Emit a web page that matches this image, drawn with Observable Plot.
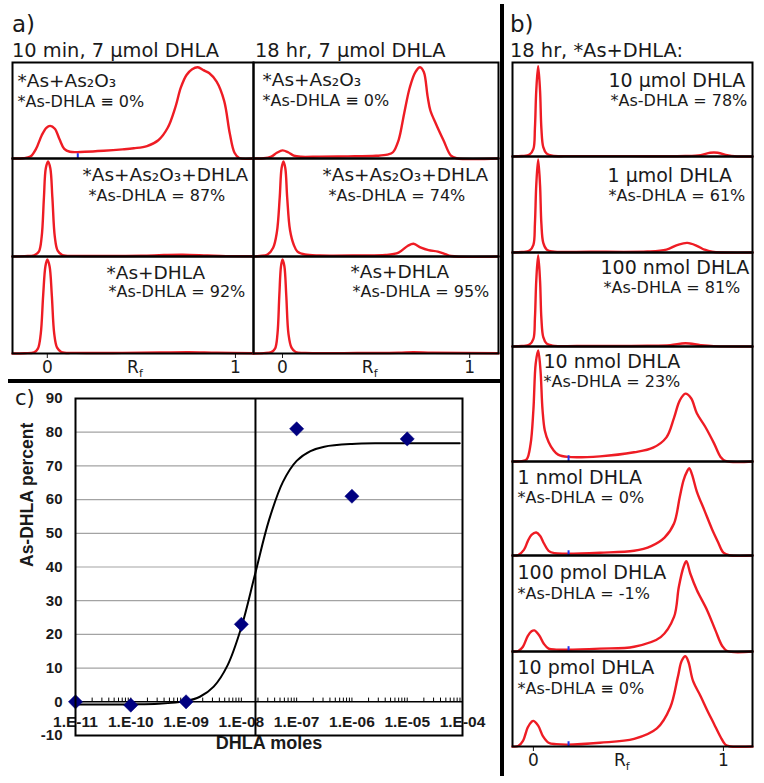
<!DOCTYPE html>
<html><head><meta charset="utf-8">
<script src="https://cdn.jsdelivr.net/npm/d3@7"></script>
<script src="https://cdn.jsdelivr.net/npm/@observablehq/plot@0.6"></script>
<style>
html,body{margin:0;padding:0;background:#fff;}
#root{position:relative;width:764px;height:783px;overflow:hidden;background:#fff;}
</style></head><body><div id="root"></div>
<script>
// ---------------- DATA ----------------
// Panel a, 10 min column (Rf, relative intensity 0..1 of box height)
const a10_AsAs2O3 = [[-0.185,0],[-0.13,0.002],[-0.09,0.02],[-0.06,0.1],[-0.03,0.24],[-0.005,0.32],[0.015,0.34],[0.04,0.31],[0.065,0.2],[0.09,0.1],[0.12,0.07],[0.2,0.07],[0.3,0.08],[0.4,0.095],[0.46,0.107],[0.53,0.13],[0.59,0.19],[0.64,0.32],[0.68,0.53],[0.71,0.74],[0.74,0.87],[0.77,0.93],[0.80,0.95],[0.83,0.92],[0.86,0.89],[0.9,0.8],[0.94,0.6],[0.97,0.26],[0.995,0.06],[1.02,0.005],[1.096,0]];
const a10_AsAs2O3DHLA = [[-0.185,0],[-0.12,0.004],[-0.07,0.012],[-0.045,0.05],[-0.03,0.2],[-0.018,0.6],[-0.008,0.9],[0.004,0.97],[0.016,0.9],[0.027,0.6],[0.04,0.2],[0.055,0.06],[0.08,0.015],[0.15,0.006],[0.3,0.005],[0.5,0.008],[0.62,0.015],[0.72,0.018],[0.85,0.01],[0.95,0.004],[1.096,0.003]];
const a10_AsDHLA = [[-0.185,0],[-0.12,0.003],[-0.07,0.012],[-0.05,0.05],[-0.035,0.2],[-0.022,0.6],[-0.01,0.9],[0.0,0.97],[0.012,0.9],[0.024,0.6],[0.037,0.2],[0.052,0.06],[0.075,0.015],[0.15,0.006],[0.4,0.006],[0.6,0.01],[0.75,0.014],[0.9,0.007],[1.096,0.003]];
// Panel a, 18 hr column
const a18_AsAs2O3 = [[-0.155,0],[-0.1,0.002],[-0.06,0.02],[-0.03,0.06],[0.0,0.085],[0.03,0.065],[0.06,0.03],[0.1,0.018],[0.2,0.02],[0.35,0.022],[0.5,0.028],[0.56,0.04],[0.59,0.065],[0.62,0.19],[0.65,0.47],[0.68,0.74],[0.71,0.9],[0.735,0.95],[0.755,0.9],[0.775,0.65],[0.79,0.5],[0.82,0.36],[0.86,0.19],[0.9,0.03],[0.93,0.003],[1.154,0]];
const a18_AsAs2O3DHLA = [[-0.155,0],[-0.12,0.005],[-0.08,0.02],[-0.05,0.09],[-0.03,0.25],[-0.015,0.6],[-0.005,0.9],[0.005,0.97],[0.015,0.9],[0.025,0.6],[0.04,0.27],[0.06,0.12],[0.08,0.05],[0.12,0.02],[0.2,0.01],[0.4,0.01],[0.55,0.015],[0.62,0.04],[0.67,0.11],[0.70,0.13],[0.74,0.09],[0.78,0.065],[0.83,0.05],[0.87,0.025],[0.9,0.005],[1.154,0]];
const a18_AsDHLA = [[-0.155,0],[-0.1,0.004],[-0.06,0.015],[-0.04,0.05],[-0.027,0.2],[-0.017,0.6],[-0.008,0.9],[0.0,0.97],[0.01,0.9],[0.02,0.6],[0.032,0.2],[0.048,0.06],[0.07,0.015],[0.12,0.006],[0.4,0.005],[0.62,0.008],[0.7,0.014],[0.8,0.008],[1.154,0.003]];
// Panel b, 18 hr, *As + DHLA amounts
const b_10umol = [[-0.11,0],[-0.06,0.005],[-0.02,0.02],[0.0,0.08],[0.008,0.3],[0.015,0.7],[0.025,0.96],[0.035,0.7],[0.042,0.3],[0.052,0.1],[0.07,0.03],[0.1,0.008],[0.2,0.004],[0.5,0.004],[0.8,0.005],[0.88,0.015],[0.93,0.04],[0.97,0.04],[1.02,0.015],[1.06,0.003],[1.153,0]];
const b_1umol = [[-0.11,0],[-0.06,0.005],[-0.02,0.02],[0.0,0.08],[0.008,0.3],[0.015,0.7],[0.025,0.97],[0.035,0.7],[0.042,0.3],[0.052,0.1],[0.07,0.03],[0.1,0.01],[0.3,0.008],[0.6,0.01],[0.7,0.03],[0.76,0.08],[0.81,0.1],[0.86,0.07],[0.9,0.03],[0.94,0.008],[1.153,0]];
const b_100nmol = [[-0.11,0],[-0.06,0.005],[-0.02,0.02],[0.0,0.08],[0.008,0.3],[0.015,0.7],[0.025,0.97],[0.035,0.7],[0.042,0.3],[0.052,0.1],[0.07,0.03],[0.1,0.01],[0.3,0.006],[0.6,0.008],[0.72,0.015],[0.8,0.035],[0.88,0.015],[0.95,0.004],[1.153,0]];
const b_10nmol = [[-0.11,0],[-0.06,0.003],[-0.035,0.02],[-0.015,0.15],[0.0,0.45],[0.012,0.85],[0.025,0.965],[0.037,0.8],[0.048,0.45],[0.06,0.27],[0.08,0.17],[0.105,0.1],[0.13,0.06],[0.18,0.04],[0.35,0.045],[0.53,0.08],[0.63,0.12],[0.70,0.21],[0.74,0.38],[0.77,0.53],[0.80,0.59],[0.83,0.55],[0.86,0.42],[0.905,0.3],[0.95,0.16],[0.985,0.04],[1.01,0.005],[1.153,0]];
const b_1nmol = [[-0.11,0],[-0.08,0.005],[-0.05,0.06],[-0.03,0.15],[-0.01,0.22],[0.015,0.245],[0.035,0.21],[0.055,0.13],[0.08,0.05],[0.11,0.025],[0.18,0.02],[0.35,0.03],[0.53,0.05],[0.62,0.1],[0.69,0.19],[0.74,0.34],[0.77,0.62],[0.79,0.8],[0.81,0.9],[0.82,0.93],[0.835,0.86],[0.86,0.68],[0.9,0.48],[0.94,0.28],[0.97,0.15],[1.0,0.03],[1.03,0.003],[1.153,0]];
const b_100pmol = [[-0.11,0],[-0.08,0.005],[-0.055,0.05],[-0.03,0.16],[-0.01,0.21],[0.005,0.22],[0.03,0.17],[0.055,0.08],[0.08,0.03],[0.12,0.02],[0.18,0.018],[0.35,0.03],[0.53,0.05],[0.67,0.15],[0.74,0.36],[0.765,0.67],[0.79,0.88],[0.805,0.94],[0.826,0.81],[0.86,0.64],[0.914,0.43],[0.958,0.22],[0.993,0.06],[1.02,0.005],[1.153,0]];
const b_10pmol = [[-0.11,0],[-0.08,0.005],[-0.055,0.06],[-0.03,0.2],[-0.01,0.26],[0.0,0.27],[0.025,0.22],[0.05,0.11],[0.08,0.04],[0.12,0.025],[0.18,0.02],[0.35,0.04],[0.53,0.08],[0.65,0.19],[0.72,0.41],[0.76,0.73],[0.78,0.9],[0.80,0.95],[0.816,0.89],[0.84,0.69],[0.88,0.53],[0.915,0.38],[0.95,0.24],[0.985,0.1],[1.01,0.02],[1.03,0.003],[1.153,0]];

// Scanner origin marks (Rf)
const originMarkA10 = [0.162];
const originMarkB = [0.185];

// Text
const panelLetters = ["a)", "b)", "c)"];
const headA = ["10 min, 7 µmol DHLA", "18 hr, 7 µmol DHLA"];
const headB = "18 hr, *As+DHLA:";
const aSamples = ["*As+As₂O₃", "*As+As₂O₃+DHLA", "*As+DHLA"];
const a10Pct = ["*As-DHLA ≡ 0%", "*As-DHLA = 87%", "*As-DHLA = 92%"];
const a18Pct = ["*As-DHLA ≡ 0%", "*As-DHLA = 74%", "*As-DHLA = 95%"];
const bAmounts = ["10 µmol DHLA", "1 µmol DHLA", "100 nmol DHLA", "10 nmol DHLA", "1 nmol DHLA", "100 pmol DHLA", "10 pmol DHLA"];
const bPct = ["*As-DHLA = 78%", "*As-DHLA = 61%", "*As-DHLA = 81%", "*As-DHLA = 23%", "*As-DHLA = 0%", "*As-DHLA = -1%", "*As-DHLA ≡ 0%"];
const rfTicks = [0, 1];

// Panel c
const dhlaMoles = [1e-11, 1e-10, 1e-9, 1e-8, 1e-7, 1e-6, 1e-5];
const asDhlaPct = [0, -1, 0, 23, 81, 61, 78];
const fitLogMoles = [-11, -10.5, -10, -9.5, -9, -8.75, -8.5, -8.25, -8, -7.75, -7.5, -7.25, -7, -6.75, -6.5, -6, -5.5, -5, -4.5, -4.05];
const fitPct = [-0.8, -0.8, -0.75, -0.6, 0.2, 1.5, 4.5, 10.8, 22.1, 38, 53.9, 65.2, 71.5, 74.4, 75.7, 76.5, 76.7, 76.7, 76.7, 76.7];
const ec50Moles = 1.8e-8;
const xTickMoles = [1e-11, 1e-10, 1e-9, 1e-8, 1e-7, 1e-6, 1e-5, 1e-4];
const xTickLabels = ["1.E-11", "1.E-10", "1.E-09", "1.E-08", "1.E-07", "1.E-06", "1.E-05", "1.E-04"];
const yTicks = [-10, 0, 10, 20, 30, 40, 50, 60, 70, 80, 90];
const gridPct = [10, 20, 30, 40, 50, 60, 70, 80];

// ---------------- LAYOUT ----------------
const RED = "#ee1c24";
const INK = "#1a1a1a";
const FONT_AB = "'DejaVu Sans', Verdana, sans-serif";
const FONT_C = "'Liberation Sans', Arial, sans-serif";
const root = document.getElementById("root");

function place(svg, left, top, font) {
  svg.style.position = "absolute";
  svg.style.left = left + "px";
  svg.style.top = top + "px";
  svg.style.background = "transparent";
  svg.style.overflow = "visible";
  svg.style.maxWidth = "none";
  svg.style.fontFamily = font;
  svg.style.color = INK;
  root.appendChild(svg);
}

function tlcBox(o) {
  const fs2 = 16;
  const axisH = o.axis ? 31 : 0;
  const marks = [
    Plot.line(o.trace, {x: d => d[0], y: d => d[1], stroke: RED, strokeWidth: 2.4, curve: "catmull-rom"}),
    Plot.text([o.l1], {frameAnchor: "top-left", textAnchor: "start", lineAnchor: "middle", dx: o.t[0], dy: o.t[1] - 0.32 * o.fs1, fontSize: o.fs1, fill: INK}),
    Plot.text([o.l2], {frameAnchor: "top-left", textAnchor: "start", lineAnchor: "middle", dx: o.t[2], dy: o.t[3] - 0.32 * fs2, fontSize: fs2, fill: INK})
  ];
  if (o.blue) marks.push(Plot.ruleX(o.blue, {y1: 0, y2: 0.05, stroke: "#2233ee", strokeWidth: 2}));
  if (o.axis) {
    marks.push(Plot.axisX(rfTicks, {tickSize: 5, tickPadding: 2, fontSize: 17, tickFormat: d => String(d), label: null}));
    marks.push(Plot.text(["R"], {x: [0.455], frameAnchor: "bottom", lineAnchor: "middle", dy: 19 - 0.32 * 17, fontSize: 17, fill: INK}));
    marks.push(Plot.text(["f"], {x: [0.455], frameAnchor: "bottom", lineAnchor: "middle", textAnchor: "start", dx: 6, dy: 23 - 0.32 * 11, fontSize: 11, fill: INK}));
  }
  marks.push(Plot.frame({stroke: "#000", strokeWidth: 2}));
  const svg = Plot.plot({
    width: o.w + 2, height: o.h + 2 + axisH,
    marginLeft: 1, marginRight: 1, marginTop: 1, marginBottom: 1 + axisH,
    x: o.axis ? {domain: o.dom} : {domain: o.dom, axis: null},
    y: {domain: [0, 1], axis: null},
    marks
  });
  place(svg, o.left - 1, o.top - 1, FONT_AB);
}

// Panel a
const aTops = [62, 158, 256], aH = [96, 98, 97];
const aCols = [
  {left: 12, w: 241, dom: [-0.185, 1.096], traces: [a10_AsAs2O3, a10_AsAs2O3DHLA, a10_AsDHLA], pct: a10Pct,
   text: [[5, 24, 5, 44], [70, 22, 76, 42], [94, 22, 96, 40]], blue: [originMarkA10, null, null]},
  {left: 253, w: 245, dom: [-0.155, 1.154], traces: [a18_AsAs2O3, a18_AsAs2O3DHLA, a18_AsDHLA], pct: a18Pct,
   text: [[9, 23, 9, 43], [69, 22, 75, 42], [97, 21, 99, 40]], blue: [null, null, null]}
];
aCols.forEach(c => {
  for (let r = 0; r < 3; r++) {
    tlcBox({trace: c.traces[r], dom: c.dom, left: c.left, top: aTops[r], w: c.w, h: aH[r],
      l1: aSamples[r], l2: c.pct[r], t: c.text[r], fs1: 18.5, axis: r === 2, blue: c.blue[r]});
  }
});

// Panel b
const bTops = [62, 156, 252, 346, 461, 555, 651], bH = [94, 96, 94, 115, 94, 96, 95];
const bTraces = [b_10umol, b_1umol, b_100nmol, b_10nmol, b_1nmol, b_100pmol, b_10pmol];
const bText = [[96, 24, 98, 43], [95, 25, 96, 44], [88, 21, 91, 40], [31, 21, 31, 40], [5, 22, 5, 41], [5, 23, 5, 43], [5, 22, 5, 42]];
for (let r = 0; r < 7; r++) {
  tlcBox({trace: bTraces[r], dom: [-0.11, 1.153], left: 512, top: bTops[r], w: 240, h: bH[r],
    l1: bAmounts[r], l2: bPct[r], t: bText[r], fs1: 19, axis: r === 6, blue: r >= 3 ? originMarkB : null});
}

// Panel c
const minorTicks = [];
for (let k = -11; k < -4; k++) for (let m = 1; m <= 9; m++) minorTicks.push(m * Math.pow(10, k));
minorTicks.push(1e-4);
const pts = dhlaMoles.map((m, i) => ({m, p: asDhlaPct[i]}));
const fit = fitLogMoles.map((l, i) => ({m: Math.pow(10, l), p: fitPct[i]}));
const pc = Plot.plot({
  width: 500, height: 399, marginLeft: 75, marginRight: 38, marginTop: 14, marginBottom: 48,
  x: {type: "log", domain: [1e-11, 1e-4], axis: null},
  y: {domain: [-10, 90], axis: null},
  marks: [
    Plot.ruleY(gridPct, {stroke: "#a3a3a3", strokeWidth: 1.2}),
    Plot.text(xTickLabels, {x: xTickMoles, y: xTickLabels.map(() => -5.9), fontSize: 15.5, fontWeight: "bold", fill: INK}),
    Plot.ruleY([0], {stroke: "#000", strokeWidth: 1.6}),
    Plot.ruleX(minorTicks, {y1: 0, y2: 1.1, stroke: "#000", strokeWidth: 1}),
    Plot.ruleX([ec50Moles], {stroke: "#000", strokeWidth: 2}),
    Plot.line(fit, {x: "m", y: "p", curve: "catmull-rom", stroke: "#000", strokeWidth: 2}),
    Plot.dot(pts, {x: "m", y: "p", symbol: "diamond2", r: 6.4, fill: "#000080", stroke: "#000080", strokeWidth: 0.5}),
    Plot.axisY(yTicks, {tickSize: 0, tickPadding: 13, tickFormat: d => String(d), fontSize: 15, fontWeight: "bold", label: null}),
    Plot.text(["As-DHLA percent"], {frameAnchor: "left", rotate: -90, dx: -48, fontSize: 17.5, fontWeight: "bold", fill: INK}),
    Plot.text(["DHLA moles"], {frameAnchor: "bottom", dy: 13, fontSize: 18, fontWeight: "bold", fill: INK}),
    Plot.frame({stroke: "#000", strokeWidth: 2})
  ]
});
place(pc, 0, 384, FONT_C);
pc.style.fontWeight = "bold";

// Overlay: panel letters, headings, separators
const ns = "http://www.w3.org/2000/svg";
const ov = document.createElementNS(ns, "svg");
ov.setAttribute("width", 764); ov.setAttribute("height", 783);
ov.style.position = "absolute"; ov.style.left = "0px"; ov.style.top = "0px";
ov.setAttribute("font-family", FONT_AB);
ov.setAttribute("fill", INK);
function addText(s, x, y, fs) {
  const t = document.createElementNS(ns, "text");
  t.setAttribute("x", x); t.setAttribute("y", y); t.setAttribute("font-size", fs);
  t.textContent = s; ov.appendChild(t);
}
function addRect(x, y, w, h) {
  const r = document.createElementNS(ns, "rect");
  r.setAttribute("x", x); r.setAttribute("y", y); r.setAttribute("width", w); r.setAttribute("height", h);
  r.setAttribute("fill", "#000"); ov.appendChild(r);
}
addText(panelLetters[0], 12, 32, 23);
addText(panelLetters[1], 510, 32, 23);
addText(panelLetters[2], 15, 405, 21);
addText(headA[0], 12, 57, 19.4);
addText(headA[1], 255, 57, 19.4);
addText(headB, 510, 57, 19.4);
addRect(8, 379, 494, 4);
addRect(500, 4, 4, 772);
root.appendChild(ov);
</script></body></html>
